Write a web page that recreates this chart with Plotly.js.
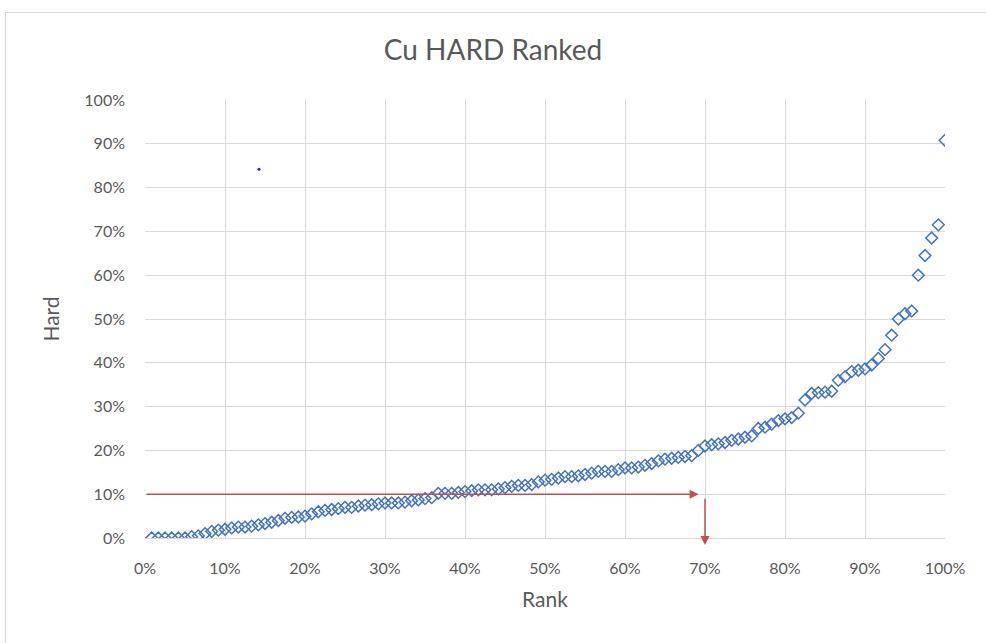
<!DOCTYPE html>
<html>
<head>
<meta charset="utf-8">
<script src="https://cdn.plot.ly/plotly-3.0.1.min.js"></script>
<style>
html,body{margin:0;padding:0;background:#fff;overflow:hidden;}
#chart{position:absolute;left:0;top:0;width:986px;height:643px;}
#frame{position:absolute;left:5px;top:12px;width:1200px;height:1200px;border:1px solid #d9d9d9;pointer-events:none;}
</style>
</head>
<body>
<div id="chart"></div>
<div id="frame"></div>
<script>
// Hard values (fraction) in rank order; rank = i / N
const hardValues = [
  0, 0, 0, 0, 0, 0, 0.003, 0.005, 0.010, 0.015,
  0.018, 0.020, 0.023, 0.025, 0.025, 0.027, 0.030, 0.033, 0.036, 0.040,
  0.045, 0.047, 0.048, 0.050, 0.055, 0.060, 0.063, 0.065, 0.067, 0.070,
  0.070, 0.073, 0.075, 0.076, 0.078, 0.080, 0.080, 0.080, 0.082, 0.085,
  0.087, 0.090, 0.092, 0.102, 0.102, 0.102, 0.104, 0.106, 0.108, 0.110,
  0.110, 0.110, 0.112, 0.115, 0.118, 0.120, 0.120, 0.122, 0.128, 0.132,
  0.134, 0.137, 0.140, 0.140, 0.142, 0.145, 0.148, 0.152, 0.152, 0.152,
  0.156, 0.160, 0.160, 0.162, 0.166, 0.170, 0.176, 0.180, 0.182, 0.184,
  0.186, 0.188, 0.200, 0.210, 0.213, 0.215, 0.218, 0.223, 0.226, 0.230,
  0.233, 0.250, 0.253, 0.260, 0.268, 0.272, 0.275, 0.285, 0.315, 0.330,
  0.332, 0.333, 0.335, 0.360, 0.368, 0.380, 0.383, 0.386, 0.395, 0.410,
  0.430, 0.463, 0.500, 0.512, 0.518, 0.600, 0.645, 0.685, 0.715, 0.908
];
const N = hardValues.length;
const rankValues = hardValues.map((v, i) => (i + 1) / N);

// stray point
const strayRank = [0.1425];
const strayHard = [0.842];

// arrow annotation values
const arrowLevel = 0.10;
const arrowRank = 0.70;
const arrowBottom = -0.016;

const tickVals = [0,0.1,0.2,0.3,0.4,0.5,0.6,0.7,0.8,0.9,1.0];
const tickText = ["0%","10%","20%","30%","40%","50%","60%","70%","80%","90%","100%"];

const FONT = "Lato, 'Open Sans', sans-serif";
const GREY = "#595959";
const RED = "#C0504D";

const traces = [
  {
    x: rankValues, y: hardValues, type: "scatter", mode: "markers",
    marker: {symbol: "diamond-open", size: 9, color: "#4472C4", line: {width: 1.5, color: "#4472C4"}},
    hoverinfo: "x+y", showlegend: false
  },
  {
    x: strayRank, y: strayHard, type: "scatter", mode: "markers",
    marker: {symbol: "circle", size: 3, color: "#1a1aff"},
    showlegend: false
  }
];

const layout = {
  width: 986, height: 643,
  margin: {l: 145, r: 41, t: 100, b: 105},
  paper_bgcolor: "rgba(0,0,0,0)", plot_bgcolor: "#fff",
  font: {family: FONT, color: GREY, size: 16},
  title: {text: "Cu HARD Ranked", font: {family: FONT, size: 28, color: GREY}, x: 0.5, xanchor: "center", y: 0.922, yanchor: "middle"},
  xaxis: {
    range: [0, 1], tickvals: tickVals, ticktext: tickText,
    showgrid: true, gridcolor: "#d9d9d9", gridwidth: 1,
    zeroline: false, showline: true, linecolor: "#d9d9d9",
    ticks: "", ticklabelstandoff: 16,
    tickfont: {family: FONT, size: 16, color: GREY},
    title: {text: "Rank", font: {family: FONT, size: 21, color: GREY}, standoff: 16}
  },
  yaxis: {
    range: [0, 1], tickvals: tickVals, ticktext: tickText,
    showgrid: true, gridcolor: "#d9d9d9", gridwidth: 1,
    zeroline: false, showline: false,
    ticks: "", ticklabelstandoff: 19,
    tickfont: {family: FONT, size: 16, color: GREY},
    title: {text: "Hard", font: {family: FONT, size: 21, color: GREY}, standoff: 18}
  },
  annotations: [
    {
      x: arrowRank - 0.008, y: arrowLevel, xref: "x", yref: "y",
      ax: 0, ay: arrowLevel, axref: "x", ayref: "y",
      showarrow: true, arrowhead: 2, arrowsize: 1.2, arrowwidth: 1.5, arrowcolor: RED, text: ""
    },
    {
      x: arrowRank, y: arrowBottom, xref: "x", yref: "y",
      ax: arrowRank, ay: arrowLevel - 0.007, axref: "x", ayref: "y",
      showarrow: true, arrowhead: 2, arrowsize: 1.2, arrowwidth: 1.5, arrowcolor: RED, text: ""
    }
  ]
};

Plotly.newPlot("chart", traces, layout, {displayModeBar: false, staticPlot: true});
</script>
</body>
</html>
